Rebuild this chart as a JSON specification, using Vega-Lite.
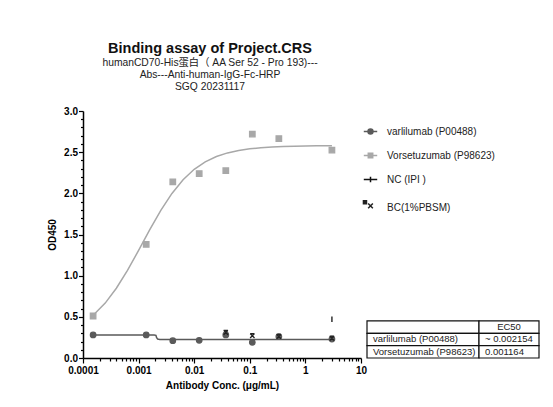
{
  "$schema": "https://vega.github.io/schema/vega-lite/v6.json",
  "padding": {"left": 47, "top": 41, "right": 5, "bottom": 5},
  "background": "white",
  "config": {
    "view": {"stroke": null},
    "font": "Liberation Sans",
    "axis": {
      "labelOverlap": false, "labelBound": false, "labelFlush": false, "grid": false,
      "domainColor": "#000", "domainWidth": 1.5, "tickColor": "#000", "tickWidth": 1.2,
      "labelColor": "#000", "labelFont": "Liberation Sans", "labelFontSize": 10, "labelFontWeight": "bold",
      "titleFont": "Liberation Sans", "titleFontSize": 10, "titleFontWeight": "bold", "titleColor": "#000"
    }
  },
  "datasets": {
    "points": [
      {"series": "varlilumab (P00488)", "conc": 0.000152, "od": 0.28},
      {"series": "varlilumab (P00488)", "conc": 0.00137, "od": 0.28},
      {"series": "varlilumab (P00488)", "conc": 0.00412, "od": 0.21},
      {"series": "varlilumab (P00488)", "conc": 0.0123, "od": 0.215},
      {"series": "varlilumab (P00488)", "conc": 0.037, "od": 0.28},
      {"series": "varlilumab (P00488)", "conc": 0.111, "od": 0.19},
      {"series": "varlilumab (P00488)", "conc": 0.333, "od": 0.26},
      {"series": "varlilumab (P00488)", "conc": 3, "od": 0.23},
      {"series": "Vorsetuzumab (P98623)", "conc": 0.000152, "od": 0.51},
      {"series": "Vorsetuzumab (P98623)", "conc": 0.00137, "od": 1.38},
      {"series": "Vorsetuzumab (P98623)", "conc": 0.00412, "od": 2.14},
      {"series": "Vorsetuzumab (P98623)", "conc": 0.0123, "od": 2.24},
      {"series": "Vorsetuzumab (P98623)", "conc": 0.037, "od": 2.275},
      {"series": "Vorsetuzumab (P98623)", "conc": 0.111, "od": 2.72},
      {"series": "Vorsetuzumab (P98623)", "conc": 0.333, "od": 2.665},
      {"series": "Vorsetuzumab (P98623)", "conc": 3, "od": 2.525},
      {"series": "NC (IPI )", "conc": 3, "od": 0.47},
      {"series": "BC(1%PBSM)", "conc": 0.037, "od": 0.31},
      {"series": "BC(1%PBSM)", "conc": 0.111, "od": 0.27},
      {"series": "BC(1%PBSM)", "conc": 0.333, "od": 0.26},
      {"series": "BC(1%PBSM)", "conc": 3, "od": 0.24}
    ],
    "fits": [
      {"series": "varlilumab (P00488)", "conc": 0.000152, "od": 0.28},
      {"series": "varlilumab (P00488)", "conc": 0.0019, "od": 0.28},
      {"series": "varlilumab (P00488)", "conc": 0.00205, "od": 0.275},
      {"series": "varlilumab (P00488)", "conc": 0.0021, "od": 0.25},
      {"series": "varlilumab (P00488)", "conc": 0.0022, "od": 0.23},
      {"series": "varlilumab (P00488)", "conc": 0.0024, "od": 0.225},
      {"series": "varlilumab (P00488)", "conc": 3, "od": 0.225},
      {"series": "Vorsetuzumab (P98623)", "conc": 0.000151, "od": 0.516},
      {"series": "Vorsetuzumab (P98623)", "conc": 0.000251, "od": 0.667},
      {"series": "Vorsetuzumab (P98623)", "conc": 0.000398, "od": 0.847},
      {"series": "Vorsetuzumab (P98623)", "conc": 0.000631, "od": 1.063},
      {"series": "Vorsetuzumab (P98623)", "conc": 0.001, "od": 1.307},
      {"series": "Vorsetuzumab (P98623)", "conc": 0.00158, "od": 1.557},
      {"series": "Vorsetuzumab (P98623)", "conc": 0.00251, "od": 1.794},
      {"series": "Vorsetuzumab (P98623)", "conc": 0.00398, "od": 1.999},
      {"series": "Vorsetuzumab (P98623)", "conc": 0.00631, "od": 2.166},
      {"series": "Vorsetuzumab (P98623)", "conc": 0.01, "od": 2.292},
      {"series": "Vorsetuzumab (P98623)", "conc": 0.0158, "od": 2.382},
      {"series": "Vorsetuzumab (P98623)", "conc": 0.0251, "od": 2.447},
      {"series": "Vorsetuzumab (P98623)", "conc": 0.0398, "od": 2.491},
      {"series": "Vorsetuzumab (P98623)", "conc": 0.0631, "od": 2.521},
      {"series": "Vorsetuzumab (P98623)", "conc": 0.1, "od": 2.541},
      {"series": "Vorsetuzumab (P98623)", "conc": 0.158, "od": 2.554},
      {"series": "Vorsetuzumab (P98623)", "conc": 0.251, "od": 2.563},
      {"series": "Vorsetuzumab (P98623)", "conc": 0.398, "od": 2.569},
      {"series": "Vorsetuzumab (P98623)", "conc": 0.631, "od": 2.573},
      {"series": "Vorsetuzumab (P98623)", "conc": 1, "od": 2.575},
      {"series": "Vorsetuzumab (P98623)", "conc": 1.585, "od": 2.577},
      {"series": "Vorsetuzumab (P98623)", "conc": 3, "od": 2.578}
    ],
    "table": [
      {"row": "header", "name": "", "ec50": "EC50"},
      {"row": "varl", "name": "varlilumab (P00488)", "ec50": "~ 0.002154"},
      {"row": "vors", "name": "Vorsetuzumab (P98623)", "ec50": "0.001164"}
    ]
  },
  "bounds": "flush",
  "spacing": 6,
  "hconcat": [
    {
      "width": 278,
      "height": 247,
      "title": {
        "text": "Binding assay of  Project.CRS",
        "subtitle": ["humanCD70-His蛋白（ AA Ser 52 - Pro 193)---", "Abs---Anti-human-IgG-Fc-HRP", "SGQ 20231117"],
        "anchor": "middle",
        "dx": -12,
        "font": "Liberation Sans",
        "fontSize": 14.5,
        "fontWeight": "bold",
        "color": "#111",
        "subtitleFont": "'Liberation Sans', 'Noto Sans CJK SC', sans-serif",
        "subtitleFontSize": 10.3,
        "subtitleLineHeight": 12,
        "subtitlePadding": 1,
        "subtitleColor": "#222",
        "offset": 13
      },
      "layer": [
        {
          "data": {"name": "fits"},
          "mark": {"type": "line", "strokeWidth": 1.5},
          "encoding": {
            "x": {"field": "conc", "type": "quantitative", "scale": {"type": "log", "domain": [0.0001, 10], "nice": false},
              "axis": {
                "title": "Antibody Conc. (μg/mL)",
                "values": [0.0001,0.0002,0.0003,0.0004,0.0005,0.0006,0.0007,0.0008,0.0009,0.001,0.002,0.003,0.004,0.005,0.006,0.007,0.008,0.009,0.01,0.02,0.03,0.04,0.05,0.06,0.07,0.08,0.09,0.1,0.2,0.3,0.4,0.5,0.6,0.7,0.8,0.9,1,2,3,4,5,6,7,8,9,10],
                "labelExpr": "abs(log(datum.value)/LN10 - round(log(datum.value)/LN10)) < 0.000001 ? format(datum.value, '~g') : ''",
                "tickSize": {"condition": {"test": "abs(log(datum.value)/LN10 - round(log(datum.value)/LN10)) < 0.000001", "value": 5}, "value": 3},
                "labelOverlap": false, "labelPadding": 2, "titlePadding": 5
              }},
            "y": {"field": "od", "type": "quantitative", "scale": {"domain": [0, 3], "nice": false, "zero": true},
              "axis": {
                "title": "OD450",
                "values": [0,0.1,0.2,0.3,0.4,0.5,0.6,0.7,0.8,0.9,1,1.1,1.2,1.3,1.4,1.5,1.6,1.7,1.8,1.9,2,2.1,2.2,2.3,2.4,2.5,2.6,2.7,2.8,2.9,3],
                "labelExpr": "round(datum.value*10) % 5 === 0 ? format(datum.value, '.1f') : ''",
                "tickSize": {"condition": {"test": "round(datum.value*10) % 5 === 0", "value": 4.5}, "value": 2.5},
                "labelOverlap": false, "labelPadding": 1, "titlePadding": 6
              }},
            "color": {"field": "series", "type": "nominal", "scale": {"domain": ["varlilumab (P00488)", "Vorsetuzumab (P98623)"], "range": ["#5a5a5a", "#a8a8a8"]}, "legend": null},
            "order": {"field": "conc", "type": "quantitative"}
          }
        },
        {
          "data": {"name": "points"},
          "mark": {"type": "point", "filled": true, "opacity": 1, "strokeWidth": 1.3, "size": 30},
          "encoding": {
            "x": {"field": "conc", "type": "quantitative", "scale": {"type": "log", "domain": [0.0001, 10], "nice": false},
              "axis": {
                "title": "Antibody Conc. (μg/mL)",
                "values": [0.0001,0.0002,0.0003,0.0004,0.0005,0.0006,0.0007,0.0008,0.0009,0.001,0.002,0.003,0.004,0.005,0.006,0.007,0.008,0.009,0.01,0.02,0.03,0.04,0.05,0.06,0.07,0.08,0.09,0.1,0.2,0.3,0.4,0.5,0.6,0.7,0.8,0.9,1,2,3,4,5,6,7,8,9,10],
                "labelExpr": "abs(log(datum.value)/LN10 - round(log(datum.value)/LN10)) < 0.000001 ? format(datum.value, '~g') : ''",
                "tickSize": {"condition": {"test": "abs(log(datum.value)/LN10 - round(log(datum.value)/LN10)) < 0.000001", "value": 5}, "value": 3},
                "labelOverlap": false, "labelPadding": 2, "titlePadding": 5
              }},
            "y": {"field": "od", "type": "quantitative", "scale": {"domain": [0, 3], "nice": false, "zero": true},
              "axis": {
                "title": "OD450",
                "values": [0,0.1,0.2,0.3,0.4,0.5,0.6,0.7,0.8,0.9,1,1.1,1.2,1.3,1.4,1.5,1.6,1.7,1.8,1.9,2,2.1,2.2,2.3,2.4,2.5,2.6,2.7,2.8,2.9,3],
                "labelExpr": "round(datum.value*10) % 5 === 0 ? format(datum.value, '.1f') : ''",
                "tickSize": {"condition": {"test": "round(datum.value*10) % 5 === 0", "value": 4.5}, "value": 2.5},
                "labelOverlap": false, "labelPadding": 1, "titlePadding": 6
              }},
            "fill": {"field": "series", "type": "nominal", "scale": {"domain": ["varlilumab (P00488)", "Vorsetuzumab (P98623)", "NC (IPI )", "BC(1%PBSM)"], "range": ["#5a5a5a", "#a8a8a8", "#111111", "#222222"]}, "legend": null},
            "stroke": {"field": "series", "type": "nominal", "scale": {"domain": ["varlilumab (P00488)", "Vorsetuzumab (P98623)", "NC (IPI )", "BC(1%PBSM)"], "range": ["#5a5a5a", "#a8a8a8", "#111111", "#222222"]}, "legend": null},
            "shape": {"field": "series", "type": "nominal", "scale": {"domain": ["varlilumab (P00488)", "Vorsetuzumab (P98623)", "NC (IPI )", "BC(1%PBSM)"], "range": ["circle", "square", "M0,-1V1", "M-0.8,-0.8H0.8M-0.8,-0.8L0.8,0.8M0.8,-0.8L-0.8,0.8"]}, "legend": null}
          }
        },
        {
          "data": {"name": "points"},
          "mark": {"type": "point", "filled": true, "opacity": 0, "size": 30},
          "encoding": {
            "x": {"field": "conc", "type": "quantitative", "scale": {"type": "log", "domain": [0.0001, 10], "nice": false},
              "axis": {
                "title": "Antibody Conc. (μg/mL)",
                "values": [0.0001,0.0002,0.0003,0.0004,0.0005,0.0006,0.0007,0.0008,0.0009,0.001,0.002,0.003,0.004,0.005,0.006,0.007,0.008,0.009,0.01,0.02,0.03,0.04,0.05,0.06,0.07,0.08,0.09,0.1,0.2,0.3,0.4,0.5,0.6,0.7,0.8,0.9,1,2,3,4,5,6,7,8,9,10],
                "labelExpr": "abs(log(datum.value)/LN10 - round(log(datum.value)/LN10)) < 0.000001 ? format(datum.value, '~g') : ''",
                "tickSize": {"condition": {"test": "abs(log(datum.value)/LN10 - round(log(datum.value)/LN10)) < 0.000001", "value": 5}, "value": 3},
                "labelOverlap": false, "labelPadding": 2, "titlePadding": 5
              }},
            "y": {"field": "od", "type": "quantitative", "scale": {"domain": [0, 3], "nice": false, "zero": true},
              "axis": {
                "title": "OD450",
                "values": [0,0.1,0.2,0.3,0.4,0.5,0.6,0.7,0.8,0.9,1,1.1,1.2,1.3,1.4,1.5,1.6,1.7,1.8,1.9,2,2.1,2.2,2.3,2.4,2.5,2.6,2.7,2.8,2.9,3],
                "labelExpr": "round(datum.value*10) % 5 === 0 ? format(datum.value, '.1f') : ''",
                "tickSize": {"condition": {"test": "round(datum.value*10) % 5 === 0", "value": 4.5}, "value": 2.5},
                "labelOverlap": false, "labelPadding": 1, "titlePadding": 6
              }},
            "fill": {"field": "series", "type": "nominal", "scale": {"domain": ["varlilumab (P00488)", "Vorsetuzumab (P98623)", "NC (IPI )", "BC(1%PBSM)"], "range": ["#5a5a5a", "#a8a8a8", "#111111", "#222222"]},
              "legend": {"orient": "none", "legendX": 280, "legendY": 13, "title": null, "padding": 0, "labelFont": "Liberation Sans", "labelFontSize": 10, "labelColor": "#222", "symbolSize": 180, "symbolStrokeWidth": 1.5, "symbolOpacity": 1, "rowPadding": 11, "labelOffset": 9}},
            "stroke": {"field": "series", "type": "nominal", "scale": {"domain": ["varlilumab (P00488)", "Vorsetuzumab (P98623)", "NC (IPI )", "BC(1%PBSM)"], "range": ["#5a5a5a", "#a8a8a8", "#111111", "#222222"]},
              "legend": {"orient": "none", "legendX": 280, "legendY": 13, "title": null, "padding": 0, "labelFont": "Liberation Sans", "labelFontSize": 10, "labelColor": "#222", "symbolSize": 180, "symbolStrokeWidth": 1.5, "symbolOpacity": 1, "rowPadding": 11, "labelOffset": 9}},
            "shape": {"field": "series", "type": "nominal", "scale": {"domain": ["varlilumab (P00488)", "Vorsetuzumab (P98623)", "NC (IPI )", "BC(1%PBSM)"], "range": ["M-1,0H1M-0.37,0A0.37,0.37 0 1,0 0.37,0A0.37,0.37 0 1,0 -0.37,0Z", "M-1,0H1M-0.33,-0.33H0.33V0.33H-0.33Z", "M-1,0H1M0,-0.4V0.4", "M-1.05,-1H-0.6V-0.55H-1.05ZM-0.35,-0.6L0.35,0.1M0.35,-0.6L-0.35,0.1"]},
              "legend": {"orient": "none", "legendX": 280, "legendY": 13, "title": null, "padding": 0, "labelFont": "Liberation Sans", "labelFontSize": 10, "labelColor": "#222", "symbolSize": 180, "symbolStrokeWidth": 1.5, "symbolOpacity": 1, "rowPadding": 11, "labelOffset": 9}}
          }
        }
      ],
      "resolve": {"scale": {"fill": "independent", "stroke": "independent", "shape": "independent"}}
    },
    {
      "bounds": "flush",
      "spacing": 0,
      "hconcat": [
        {
          "width": 112,
          "height": 247,
          "data": {"name": "table"},
          "layer": [
            {
              "mark": {"type": "rect", "fill": "white", "stroke": "#111", "strokeWidth": 1.2},
              "encoding": {
                "y": {"field": "row", "type": "nominal", "scale": {"type": "band", "domain": ["s01","s02","s03","s04","s05","s06","s07","s08","s09","s10","s11","s12","s13","s14","s15","s16","s17","header", "varl", "vors"], "paddingInner": 0, "paddingOuter": 0}, "axis": null}
              }
            },
            {
              "mark": {"type": "text", "align": "left", "dx": 6, "font": "Liberation Sans", "fontSize": 9.5, "color": "#222"},
              "encoding": {
                "x": {"datum": "c", "type": "nominal", "bandPosition": 0, "scale": {"type": "band", "paddingInner": 0, "paddingOuter": 0}, "axis": null},
                "y": {"field": "row", "type": "nominal", "scale": {"type": "band", "domain": ["s01","s02","s03","s04","s05","s06","s07","s08","s09","s10","s11","s12","s13","s14","s15","s16","s17","header", "varl", "vors"], "paddingInner": 0, "paddingOuter": 0}, "axis": null},
                "text": {"field": "name"}
              }
            }
          ]
        },
        {
          "width": 60,
          "height": 247,
          "data": {"name": "table"},
          "layer": [
            {
              "mark": {"type": "rect", "fill": "white", "stroke": "#111", "strokeWidth": 1.2},
              "encoding": {
                "y": {"field": "row", "type": "nominal", "scale": {"type": "band", "domain": ["s01","s02","s03","s04","s05","s06","s07","s08","s09","s10","s11","s12","s13","s14","s15","s16","s17","header", "varl", "vors"], "paddingInner": 0, "paddingOuter": 0}, "axis": null}
              }
            },
            {
              "transform": [{"filter": "datum.row !== 'header'"}],
              "mark": {"type": "text", "align": "left", "dx": 6, "font": "Liberation Sans", "fontSize": 9.5, "color": "#222"},
              "encoding": {
                "x": {"datum": "c", "type": "nominal", "bandPosition": 0, "scale": {"type": "band", "paddingInner": 0, "paddingOuter": 0}, "axis": null},
                "y": {"field": "row", "type": "nominal", "scale": {"type": "band", "domain": ["s01","s02","s03","s04","s05","s06","s07","s08","s09","s10","s11","s12","s13","s14","s15","s16","s17","header", "varl", "vors"], "paddingInner": 0, "paddingOuter": 0}, "axis": null},
                "text": {"field": "ec50"}
              }
            },
            {
              "transform": [{"filter": "datum.row === 'header'"}],
              "mark": {"type": "text", "align": "center", "font": "Liberation Sans", "fontSize": 9.5, "color": "#222"},
              "encoding": {
                "x": {"datum": "c", "type": "nominal", "bandPosition": 0.5, "scale": {"type": "band", "paddingInner": 0, "paddingOuter": 0}, "axis": null},
                "y": {"field": "row", "type": "nominal", "scale": {"type": "band", "domain": ["s01","s02","s03","s04","s05","s06","s07","s08","s09","s10","s11","s12","s13","s14","s15","s16","s17","header", "varl", "vors"], "paddingInner": 0, "paddingOuter": 0}, "axis": null},
                "text": {"field": "ec50"}
              }
            }
          ]
        }
      ]
    }
  ]
}
